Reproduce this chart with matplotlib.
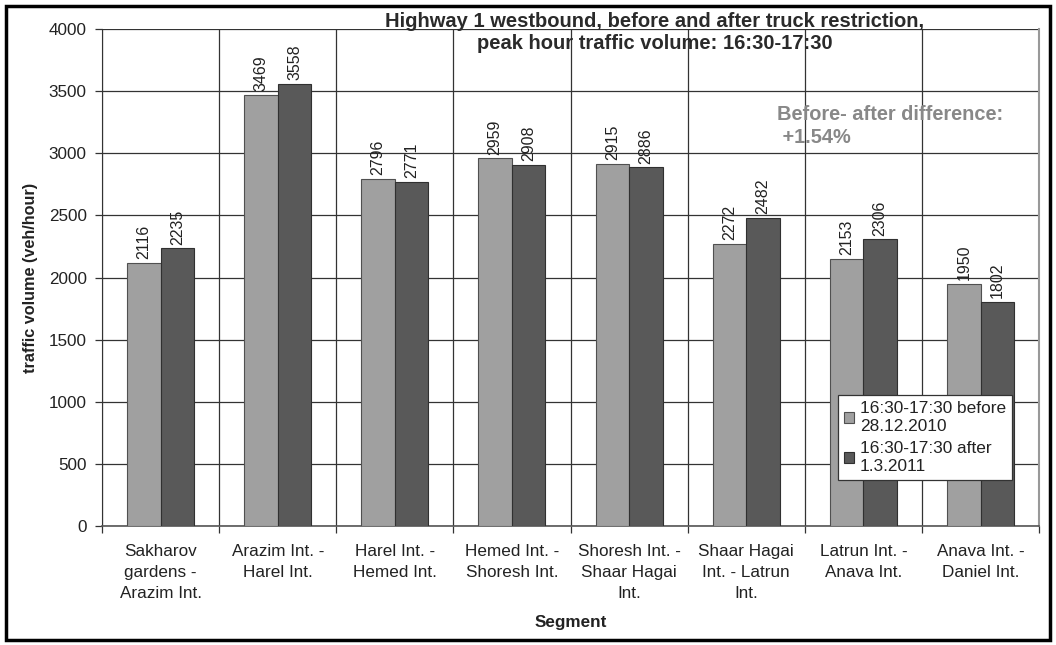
import matplotlib
matplotlib.use("Agg")
import matplotlib.pyplot as plt
import numpy as np
from matplotlib.patches import Rectangle

plt.rcParams['font.family'] = ['Liberation Sans', 'DejaVu Sans']

categories = ["Sakharov\ngardens -\nArazim Int.", "Arazim Int. -\nHarel Int.",
              "Harel Int. -\nHemed Int.", "Hemed Int. -\nShoresh Int.",
              "Shoresh Int. -\nShaar Hagai\nInt.", "Shaar Hagai\nInt. - Latrun\nInt.",
              "Latrun Int. -\nAnava Int.", "Anava Int. -\nDaniel Int."]
before = [2116, 3469, 2796, 2959, 2915, 2272, 2153, 1950]
after = [2235, 3558, 2771, 2908, 2886, 2482, 2306, 1802]
series_names = ["16:30-17:30 before\n28.12.2010", "16:30-17:30 after\n1.3.2011"]
yticks = [0, 500, 1000, 1500, 2000, 2500, 3000, 3500, 4000]

fig = plt.figure(figsize=(10.56, 6.45), dpi=100)
ax = fig.add_axes([0.0966, 0.1845, 0.8874, 0.7705])

x = np.arange(len(categories))
w = 0.286
b1 = ax.bar(x - w/2, before, w, color='#a0a0a0', edgecolor='#505050', linewidth=0.8,
            label=series_names[0], zorder=3)
b2 = ax.bar(x + w/2, after, w, color='#595959', edgecolor='#303030', linewidth=0.8,
            label=series_names[1], zorder=3)
for bars, vals in ((b1, before), (b2, after)):
    for r, v in zip(bars, vals):
        ax.text(r.get_x() + r.get_width()/2, v + 30, str(v), rotation=90,
                ha='center', va='bottom', fontsize=11.5, color='#222222', zorder=4)

ax.set_xlim(-0.5, len(categories) - 0.5)
ax.set_ylim(0, 4000)
ax.set_yticks(yticks)
ax.set_yticklabels([str(t) for t in yticks], fontsize=12.3, color='#222222')
ax.set_xticks(x)
ax.set_xticklabels(categories, fontsize=12.3, color='#222222', linespacing=1.5)
ax.set_xticks(np.arange(-0.5, len(categories)), minor=True)
ax.tick_params(axis='x', which='major', length=0, pad=13)
ax.tick_params(axis='x', which='minor', length=5, color='#333333', width=0.9)
ax.tick_params(axis='y', length=5, color='#333333', width=0.9, pad=6)
ax.grid(axis='y', color='#333333', linewidth=0.9, zorder=0)
ax.grid(axis='x', which='minor', color='#333333', linewidth=0.9, zorder=0)
ax.set_axisbelow(True)
ax.spines['top'].set_visible(False)
ax.spines['left'].set_color('#333333')
ax.spines['bottom'].set_color('#555555')
ax.spines['bottom'].set_linewidth(1.2)
ax.spines['right'].set_color('#999999')
ax.spines['right'].set_linewidth(1.5)

ax.set_ylabel("traffic volume (veh/hour)", fontsize=11.7, fontweight='bold',
              labelpad=8, color='#222222')
ax.set_xlabel("Segment", fontsize=12.3, fontweight='bold', labelpad=10, color='#222222')

ax.text(0.590, 0.993, "Highway 1 westbound, before and after truck restriction,\npeak hour traffic volume: 16:30-17:30",
        transform=ax.transAxes, ha='center', va='center', fontsize=14.5, fontweight='bold',
        color='#2a2a2a', linespacing=1.15)
ax.text(0.720, 0.805, "Before- after difference:\n +1.54%", transform=ax.transAxes,
        ha='left', va='center', fontsize=14.4, fontweight='bold', color='#888888',
        linespacing=1.3)

leg = ax.legend(loc='lower left', bbox_to_anchor=(0.7855, 0.093), fontsize=12.4,
                frameon=True, fancybox=False, edgecolor='#333333', framealpha=1,
                handlelength=0.6, handleheight=0.6, handletextpad=0.3, borderpad=0.35,
                labelspacing=0.45, borderaxespad=0)
leg.get_frame().set_linewidth(0.9)
for t in leg.get_texts():
    t.set_color('#222222')

fig.patches.append(Rectangle((0.006, 0.008), 0.988, 0.982, transform=fig.transFigure,
                             fill=False, edgecolor='black', linewidth=2.5))

fig.savefig("out.png", dpi=100)
